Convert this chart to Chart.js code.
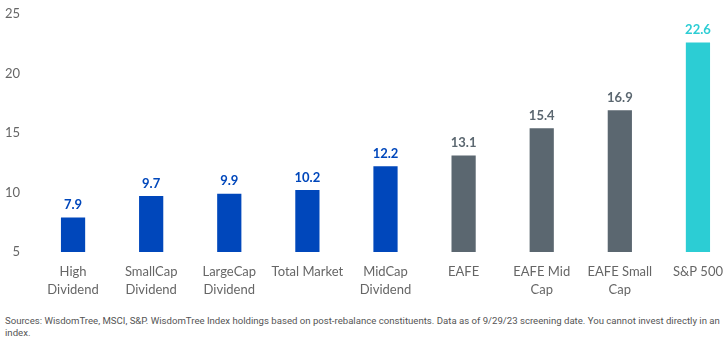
<!DOCTYPE html>
<html lang="en">
<head>
    <meta charset="UTF-8">
    <title>Dividend Yield Comparison</title>
    <style>
        body {
            margin: 0;
            width: 728px;
            height: 351px;
            overflow: hidden;
            background: #fff;
            font-family: Lato, sans-serif;
        }

        /* shifted up so the top tick sits near the edge like the original */
        .chart-box {
            position: absolute;
            left: 0;
            top: -8px;
            width: 737px;
            height: 308px;
        }

        .source-note {
            position: absolute;
            left: 5px;
            top: 315px;
            font-family: "Liberation Sans Narrow", Roboto, sans-serif;
            font-size: 9.6px;
            line-height: 12px;
            white-space: nowrap;
            color: #555;
        }
    </style>
</head>
<body>
    <div class="chart-box">
        <canvas id="peChart"></canvas>
    </div>
    <div class="source-note">Sources: WisdomTree, MSCI, S&amp;P. WisdomTree Index holdings based on post-rebalance constituents. Data as of 9/29/23 screening date. You cannot invest directly in an<br>index.</div>

    <script src="https://cdn.jsdelivr.net/npm/chart.js"></script>
    <script>
        // categories (multi-line labels as arrays)
        const categories = [
            ["High", "Dividend"], ["SmallCap", "Dividend"], ["LargeCap", "Dividend"],
            "Total Market", ["MidCap", "Dividend"], "EAFE", ["EAFE Mid", "Cap"],
            ["EAFE Small", "Cap"], "S&P 500"
        ];
        const values = [7.9, 9.7, 9.9, 10.2, 12.2, 13.1, 15.4, 16.9, 22.6];
        const yTicks = [5, 10, 15, 20, 25];

        // colours: WisdomTree blue, grey for EAFE, teal for S&P
        const blue = '#0047bb', grey = '#5b6770', teal = '#2ccdd4';
        const barColors = [blue, blue, blue, blue, blue, grey, grey, grey, teal];

        // draws the value above each bar
        const valueLabels = {
            id: 'valueLabels',
            afterDatasetsDraw(chart) {
                const ctx = chart.ctx;
                const meta = chart.getDatasetMeta(0);
                ctx.save();
                ctx.font = 'bold 13px Lato, sans-serif';
                ctx.textAlign = 'center';
                ctx.textBaseline = 'bottom';
                meta.data.forEach((bar, i) => {
                    ctx.fillStyle = barColors[i];
                    ctx.fillText(values[i].toFixed(1), bar.x, bar.y - 6);
                });
                ctx.restore();
            }
        };

        new Chart(document.getElementById('peChart'), {
            type: 'bar',
            data: {
                labels: categories,
                datasets: [{
                    data: values,
                    backgroundColor: barColors,
                    base: 5,
                    categoryPercentage: 1,
                    barPercentage: 0.31
                }]
            },
            options: {
                responsive: true,
                maintainAspectRatio: false,
                animation: false,
                layout: { padding: { top: 2, right: 0, left: 0, bottom: 0 } },
                plugins: {
                    legend: { display: false },
                    tooltip: { enabled: false }
                },
                scales: {
                    x: {
                        grid: { display: false, drawTicks: false },
                        border: { display: false },
                        ticks: {
                            color: '#666',
                            font: { family: 'Lato', size: 13, lineHeight: 1.35 },
                            padding: 11,
                            maxRotation: 0,
                            autoSkip: false
                        },
                        afterFit(scale) { scale.height = 48; }
                    },
                    y: {
                        min: yTicks[0],
                        max: yTicks[yTicks.length - 1],
                        grid: { display: false, drawTicks: false },
                        border: { display: false },
                        afterBuildTicks(scale) {
                            scale.ticks = yTicks.map(v => ({ value: v }));
                        },
                        ticks: {
                            color: '#666',
                            font: { family: 'Lato', size: 13 },
                            padding: 14
                        },
                        afterFit(scale) { scale.width = 34; }
                    }
                }
            },
            plugins: [valueLabels]
        });
    </script>
</body>
</html>
